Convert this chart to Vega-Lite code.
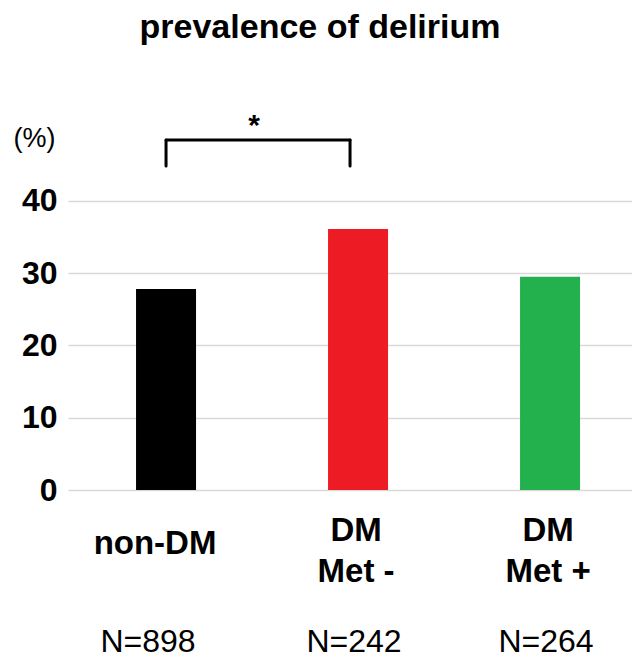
{
  "$schema": "https://vega.github.io/schema/vega-lite/v6.json",
  "width": 564,
  "height": 405,
  "autosize": {"type": "none"},
  "padding": {"left": 68, "top": 85, "right": 0, "bottom": 168},
  "background": "white",
  "title": {"text": "prevalence of delirium", "font": "Liberation Sans", "fontSize": 34, "fontWeight": "bold", "color": "black", "anchor": "middle", "dx": -30, "offset": 40},
  "config": {"view": {"stroke": null}, "font": "Liberation Sans"},
  "datasets": {
    "groups": [
      {"group": "non-DM", "value": 27.8, "n": "N=898"},
      {"group": "DM Met -", "value": 36.1, "n": "N=242"},
      {"group": "DM Met +", "value": 29.5, "n": "N=264"}
    ],
    "bracket": [
      {"from": "non-DM", "to": "DM Met -", "low": 44.8, "high": 48.4, "sig": "*", "star": 50.4}
    ]
  },
  "layer": [
    {
      "data": {"name": "groups"},
      "mark": {"type": "bar"},
      "encoding": {
        "x": {
          "field": "group", "type": "nominal", "sort": null,
          "scale": {"domain": ["non-DM", "DM Met -", "DM Met +"], "paddingInner": 0.6875, "paddingOuter": 0.3125, "align": 0.567},
          "axis": {
            "title": null,
            "labelExpr": "datum.value == 'non-DM' ? datum.value : ['DM', substring(datum.value, 3)]",
            "labelFont": "Liberation Sans", "labelFontSize": 33, "labelFontWeight": "bold", "labelColor": "black",
            "labelAngle": 0,
            "labelPadding": {"condition": {"test": "datum.value == 'non-DM'", "value": 53}, "value": 40},
            "labelOffset": {"condition": {"test": "datum.value == 'non-DM'", "value": -11}, "value": -2},
            "labelBaseline": "middle", "labelLineHeight": 41,
            "ticks": false, "tickSize": 0, "domain": false, "grid": false
          }
        },
        "y": {
          "field": "value", "type": "quantitative",
          "scale": {"domain": [0, 56], "nice": false},
          "axis": {
            "values": [0, 10, 20, 30, 40], "grid": true, "gridColor": "#d9d9d9", "gridWidth": 1.5,
            "domain": false, "ticks": false, "tickSize": 0, "labelPadding": 11,
            "labelFont": "Liberation Sans", "labelFontSize": 32, "labelFontWeight": "bold", "labelColor": "black",
            "title": "(%)", "titleAngle": 0, "titleX": -34, "titleY": 53, "titleAlign": "center", "titleBaseline": "middle",
            "titleFont": "Liberation Sans", "titleFontWeight": "normal", "titleFontSize": 27, "titleColor": "black"
          }
        },
        "color": {
          "field": "group", "type": "nominal",
          "scale": {"domain": ["non-DM", "DM Met -", "DM Met +"], "range": ["#000000", "#ED1C24", "#22B14C"]},
          "legend": null
        }
      }
    },
    {
      "data": {"name": "groups"},
      "transform": [{"filter": "datum.group == 'non-DM'"}],
      "mark": {"type": "text", "font": "Liberation Sans", "fontSize": 32, "fontWeight": "normal", "baseline": "middle", "color": "black", "dx": -18},
      "encoding": {
        "x": {"field": "group", "type": "nominal", "sort": null},
        "y": {"datum": -21.0, "type": "quantitative"},
        "text": {"field": "n"}
      }
    },
    {
      "data": {"name": "groups"},
      "transform": [{"filter": "datum.group != 'non-DM'"}],
      "mark": {"type": "text", "font": "Liberation Sans", "fontSize": 32, "fontWeight": "normal", "baseline": "middle", "color": "black", "dx": -4},
      "encoding": {
        "x": {"field": "group", "type": "nominal", "sort": null},
        "y": {"datum": -21.0, "type": "quantitative"},
        "text": {"field": "n"}
      }
    },
    {
      "data": {"name": "bracket"},
      "mark": {"type": "rule", "strokeWidth": 3, "strokeCap": "round", "color": "black", "x2Offset": -8},
      "encoding": {
        "x": {"field": "from", "type": "nominal", "bandPosition": 0.5},
        "x2": {"field": "to", "bandPosition": 0.5},
        "y": {"field": "high", "type": "quantitative"}
      }
    },
    {
      "data": {"name": "bracket"},
      "mark": {"type": "rule", "strokeWidth": 3, "strokeCap": "round", "color": "black"},
      "encoding": {
        "x": {"field": "from", "type": "nominal", "bandPosition": 0.5},
        "y": {"field": "low", "type": "quantitative"},
        "y2": {"field": "high"}
      }
    },
    {
      "data": {"name": "bracket"},
      "mark": {"type": "rule", "strokeWidth": 3, "strokeCap": "round", "color": "black", "xOffset": -8},
      "encoding": {
        "x": {"field": "to", "type": "nominal", "bandPosition": 0.5},
        "y": {"field": "low", "type": "quantitative"},
        "y2": {"field": "high"}
      }
    },
    {
      "data": {"name": "bracket"},
      "mark": {"type": "text", "font": "Liberation Sans", "fontSize": 30, "fontWeight": "bold", "color": "black", "dx": 88},
      "encoding": {
        "x": {"field": "from", "type": "nominal"},
        "y": {"field": "star", "type": "quantitative"},
        "text": {"field": "sig"}
      }
    }
  ]
}
